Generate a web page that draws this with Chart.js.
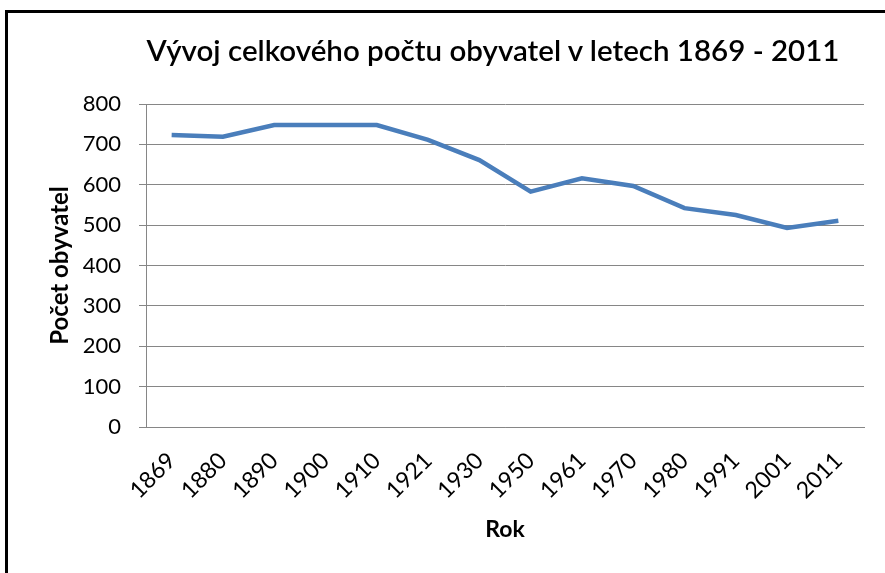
<!DOCTYPE html>
<html lang="cs">
<head>
<meta charset="UTF-8">
<title>Vývoj celkového počtu obyvatel v letech 1869 - 2011</title>
<script src="https://cdn.jsdelivr.net/npm/chart.js"></script>
<style>
    body { margin: 0; background: #fff; font-family: Lato, sans-serif; }
    .frame { position: absolute; left: 5px; top: 10px; width: 880px; height: 563px; border-left: 3px solid #000; border-top: 3px solid #000; box-sizing: border-box; }
    .wrap { position: absolute; left: 0; top: 0; width: 885px; height: 573px; }
    .title { position: absolute; left: 493px; top: 35px; transform: translateX(-50%); white-space: nowrap; font-size: 29.5px; line-height: 30px; font-weight: 600; color: #000; }
</style>
</head>
<body>

<div class="frame"></div>
<div class="wrap"><canvas id="chart"></canvas></div>
<div class="title">Vývoj celkového počtu obyvatel v letech 1869 - 2011</div>

<script>
// data
const roky = ["1869", "1880", "1890", "1900", "1910", "1921", "1930", "1950", "1961", "1970", "1980", "1991", "2001", "2011"];
const obyvatele = [723, 719, 748, 748, 748, 711, 661, 583, 616, 597, 542, 525, 493, 511];
const yTicks = [0, 100, 200, 300, 400, 500, 600, 700, 800];

const gridColor = "#868686";
Chart.defaults.font.family = "Lato, sans-serif";
Chart.defaults.color = "#000";

new Chart(document.getElementById("chart"), {
    type: "line",
    data: {
        labels: roky,
        datasets: [{
            label: "Počet obyvatel",
            data: obyvatele,
            borderColor: "#4a7ebb",
            borderWidth: 4.5,
            pointRadius: 0,
            tension: 0,
            fill: false
        }]
    },
    options: {
        responsive: true,
        maintainAspectRatio: false,
        animation: false,
        layout: { padding: { left: 0, right: 21, top: 104, bottom: 0 } },
        plugins: {
            legend: { display: false },
            tooltip: { enabled: false }
        },
        scales: {
            x: {
                offset: true,
                grid: { display: false },
                border: { display: true, color: gridColor },
                ticks: { font: { size: 23 }, minRotation: 45, maxRotation: 45, padding: 12, autoSkip: false },
                title: { display: true, text: "Rok", font: { size: 23, weight: "bold" }, padding: { top: 0, bottom: 30 } },
                afterFit: scale => { scale.height = 146; }
            },
            y: {
                min: 0,
                max: 800,
                grid: { color: gridColor, tickLength: 7 },
                border: { display: true, color: gridColor },
                ticks: { font: { size: 22 }, padding: 18 },
                afterBuildTicks: scale => { scale.ticks = yTicks.map(v => ({ value: v })); },
                title: { display: true, text: "Počet obyvatel", font: { size: 24, weight: "bold" }, padding: { top: 46, bottom: 0 } },
                afterFit: scale => { scale.width = 146; }
            }
        }
    }
});
</script>

</body>
</html>
